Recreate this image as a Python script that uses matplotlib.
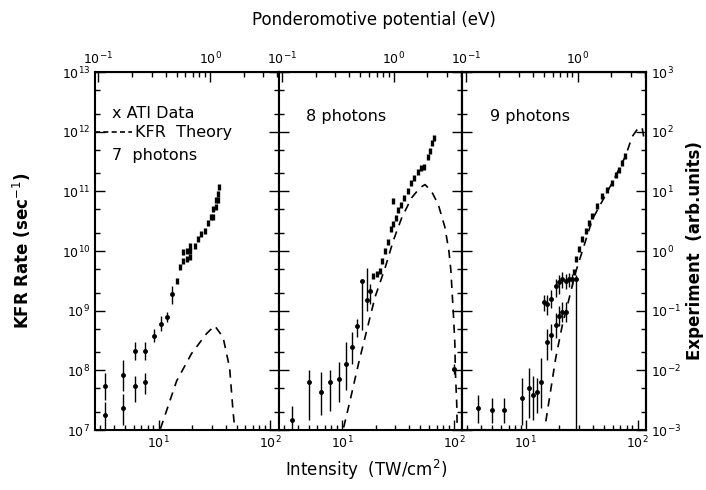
import matplotlib
matplotlib.use("Agg")
import matplotlib.pyplot as plt
from matplotlib.ticker import LogLocator, NullFormatter

# intensity (TW/cm^2) -> ponderomotive potential (eV)
UP_PER_TW = 1.0 / 29.0

# ---- 7 photons ----
i7_bar = [3.3, 3.3, 4.8, 4.8, 6.1, 6.1, 7.5, 7.5, 9.1, 10.5, 11.8, 13.2]
r7_bar = [5.5e7, 1.8e7, 8.5e7, 2.3e7, 2.1e8, 5.5e7, 2.1e8, 6.3e7, 3.8e8, 6.0e8, 7.7e8, 1.9e9]
r7_lo = [3.2e7, 1.0e7, 4.5e7, 1.2e7, 1.5e8, 3.0e7, 1.5e8, 4.0e7, 3.0e8, 4.5e8, 6.5e8, 1.3e9]
r7_hi = [9.0e7, 3.0e7, 1.5e8, 4.0e7, 3.0e8, 8.0e7, 3.0e8, 9.0e7, 5.0e8, 8.0e8, 9.5e8, 2.6e9]
i7 = [14.5, 15.5, 16.6, 16.6, 17.8, 17.8, 19.0, 19.0, 19.0, 21.1, 22.6, 24.2, 25.9,
      27.8, 29.3, 30.7, 30.7, 32.5, 32.5, 34.0, 34.0, 35.0]
r7 = [3.2e9, 5.4e9, 6.9e9, 9.5e9, 7.4e9, 1.0e10, 1.2e10, 1.0e10, 7.9e9, 1.2e10, 1.6e10,
      1.9e10, 2.2e10, 3.0e10, 3.7e10, 5.1e10, 3.7e10, 7.1e10, 5.5e10, 9.1e10, 7.1e10, 1.2e11]
i7_kfr = [10.4, 14.5, 19.7, 26.8, 31.8, 37.8, 43.3, 46.4, 48.0]
r7_kfr = [1.05e7, 6.6e7, 1.9e8, 4.1e8, 5.6e8, 3.6e8, 1.1e8, 2.1e7, 1.1e7]

# ---- 8 photons ----
i8_bar = [3.55, 5.0, 6.45, 7.8, 9.4, 10.8, 12.2, 13.6, 15.0, 16.6, 17.8, 99.9]
r8_bar = [1.5e7, 6.5e7, 4.4e7, 6.5e7, 7.2e7, 1.3e8, 2.5e8, 5.6e8, 3.1e9, 1.5e9, 2.1e9, 1.07e8]
r8_lo = [1.0e7, 1.5e7, 1.8e7, 2.1e7, 3.0e7, 4.7e7, 1.3e8, 3.6e8, 4.7e8, 1.0e9, 1.3e9, 8.7e7]
r8_hi = [2.5e7, 1.0e8, 9.3e7, 1.0e8, 1.4e8, 3.0e8, 4.4e8, 7.2e8, 3.2e9, 5.2e9, 2.8e9, 1.3e8]
i8 = [19.0, 20.4, 21.8, 22.9, 24.2, 25.6, 27.4, 28.7, 28.7, 30.1, 31.8, 33.6, 35.9, 38.6,
      41.3, 44.2, 47.3, 50.7, 54.4, 58.1, 61.0, 64.0, 66.7]
r8 = [3.8e9, 4.1e9, 4.7e9, 6.8e9, 1.0e10, 1.4e10, 2.3e10, 2.8e10, 6.8e10, 3.6e10, 4.9e10,
      6.0e10, 7.8e10, 1.0e11, 1.4e11, 1.7e11, 2.1e11, 2.5e11, 2.6e11, 3.8e11, 4.7e11,
      6.5e11, 7.9e11]
i8_kfr = [10.3, 11.8, 14.0, 16.6, 19.7, 24.2, 28.7, 34.1, 41.8, 49.7, 55.1, 63.1, 72.5,
          83.1, 90.2, 94.0, 96.6, 99.3, 102, 103, 106, 107]
r8_kfr = [1.1e7, 3.2e7, 1.3e8, 4.7e8, 1.7e9, 5.2e9, 1.5e10, 3.6e10, 7.8e10, 1.15e11, 1.3e11,
          1.0e11, 6.0e10, 2.5e10, 1.0e10, 4.7e9, 1.9e9, 7.8e8, 2.8e8, 1.0e8, 2.8e7, 1.1e7]

# ---- 9 photons ----
i9_bar = [3.7, 5.0, 6.4, 9.3, 10.7, 11.5, 12.7, 13.6, 14.6, 15.6, 15.6, 16.7, 16.7, 18.5,
          18.5, 19.8, 19.8, 21.2, 21.2, 22.8, 22.8, 24.4, 26.1, 27.9]
r9_bar = [2.3e7, 2.2e7, 2.2e7, 3.4e7, 5.0e7, 3.9e7, 4.4e7, 6.5e7, 1.4e9, 1.3e9, 3.0e8, 1.6e9,
          3.9e8, 2.6e9, 5.7e8, 3.0e9, 8.3e8, 3.4e9, 9.5e8, 3.2e9, 9.5e8, 3.4e9, 3.4e9, 3.4e9]
r9_lo = [1.3e7, 1.3e7, 1.3e7, 1.2e7, 1.6e7, 1.5e7, 1.9e7, 2.3e7, 1.0e9, 8.5e8, 1.5e8, 1.1e9,
         2.2e8, 1.7e9, 3.5e8, 1.9e9, 5.5e8, 2.4e9, 6.5e8, 2.3e9, 6.5e8, 2.5e9, 2.6e9, 1.0e7]
r9_hi = [3.9e7, 3.5e7, 3.5e7, 7.4e7, 1.1e8, 7.9e7, 7.4e7, 1.6e8, 1.8e9, 1.8e9, 5.0e8, 2.2e9,
         6.0e8, 3.4e9, 9.0e8, 4.0e9, 1.2e9, 4.4e9, 1.4e9, 4.2e9, 1.4e9, 4.3e9, 4.2e9, 4.0e9]
i9 = [27.0, 27.9, 29.9, 32.0, 34.3, 36.7, 39.4, 43.6, 48.3, 53.5, 59.4, 63.6, 68.1, 73.0, 78.0]
r9 = [4.4e9, 7.3e9, 1.08e10, 1.6e10, 2.2e10, 3.0e10, 3.9e10, 5.7e10, 8.3e10, 1.07e11,
      1.4e11, 1.9e11, 2.3e11, 3.0e11, 3.9e11]
i9_kfr = [15.1, 18.5, 21.2, 24.4, 27.9, 39.4, 59.4, 78.0, 89.6, 103, 110, 114]
r9_kfr = [1.4e7, 1.6e8, 5.7e8, 1.6e9, 4.4e9, 3.4e10, 1.4e11, 3.9e11, 8.3e11, 1.2e12, 1.15e12, 7.9e11]

panels = [
    (i7_bar, r7_bar, r7_lo, r7_hi, i7, r7, i7_kfr, r7_kfr, "7  photons"),
    (i8_bar, r8_bar, r8_lo, r8_hi, i8, r8, i8_kfr, r8_kfr, "8 photons"),
    (i9_bar, r9_bar, r9_lo, r9_hi, i9, r9, i9_kfr, r9_kfr, "9 photons"),
]


def to_up(i):
    return i * UP_PER_TW


def from_up(u):
    return u / UP_PER_TW


fig, axes = plt.subplots(1, 3, sharey=True, figsize=(7.06, 4.9), dpi=100)
fig.subplots_adjust(left=0.1346, right=0.915, top=0.853, bottom=0.1224, wspace=0)

for k, (ax, p) in enumerate(zip(axes, panels)):
    ib, rb, lo, hi, idn, rdn, ik, rk, label = p
    ax.set_xscale('log')
    ax.set_yscale('log')
    ax.set_xlim(2.7, 119)
    ax.set_ylim(1e7, 1e13)

    yerr = [[r - l for r, l in zip(rb, lo)], [h - r for r, h in zip(rb, hi)]]
    ax.errorbar(ib, rb, yerr=yerr, fmt='o', ms=2.5, color='k', elinewidth=1, capsize=0)
    ax.plot(idn, rdn, ls='none', marker='|', ms=5, mew=2.4, color='k')
    ax.plot(ik, rk, ls=(0, (5, 4)), color='k', lw=1.2)

    ax.yaxis.set_minor_locator(LogLocator(base=10, subs=(2, 5)))
    ax.yaxis.set_minor_formatter(NullFormatter())
    ax.tick_params(axis='both', which='both', direction='in', top=False,
                   left=True, right=(k < 2), labelsize=9, width=1)
    ax.tick_params(which='major', length=7)
    ax.tick_params(which='minor', length=3.5)
    for s in ax.spines.values():
        s.set_linewidth(1.5)

    sec = ax.secondary_xaxis('top', functions=(to_up, from_up))
    sec.tick_params(axis='x', which='both', direction='in', labelsize=9, width=1)
    sec.tick_params(which='major', length=7)
    sec.tick_params(which='minor', length=3.5)
    sec.xaxis.set_minor_formatter(NullFormatter())

    if k == 0:
        ax.text(0.092, 0.885, "x ATI Data", transform=ax.transAxes, fontsize=11.5, va='center')
        ax.plot([0.0, 0.2], [0.832, 0.832], transform=ax.transAxes, color='k', lw=1.2,
                ls=(0, (3, 2)))
        ax.text(0.215, 0.832, "KFR  Theory", transform=ax.transAxes, fontsize=11.5, va='center')
        ax.text(0.092, 0.768, label, transform=ax.transAxes, fontsize=11.5, va='center')
    else:
        ax.text(0.15, 0.875, label, transform=ax.transAxes, fontsize=11.5, va='center')

axr = axes[2].twinx()
axr.set_yscale('log')
axr.set_ylim(1e-3, 1e3)
axr.yaxis.set_minor_locator(LogLocator(base=10, subs=(2, 5)))
axr.yaxis.set_minor_formatter(NullFormatter())
axr.tick_params(axis='y', which='both', direction='in', labelsize=9, width=1)
axr.tick_params(which='major', length=7)
axr.tick_params(which='minor', length=3.5)
for s in axr.spines.values():
    s.set_linewidth(1.5)

fig.text(0.031, 0.488, "KFR Rate (sec$^{-1}$)", rotation=90, ha='center', va='center',
         fontsize=12, fontweight='bold')
fig.text(0.984, 0.488, "Experiment  (arb.units)", rotation=90, ha='center', va='center',
         fontsize=12, fontweight='bold')
fig.text(0.519, 0.04, "Intensity  (TW/cm$^{2}$)", ha='center', va='center', fontsize=12)
fig.text(0.529, 0.96, "Ponderomotive potential (eV)", ha='center', va='center', fontsize=12)

fig.savefig("out.png", dpi=100)
